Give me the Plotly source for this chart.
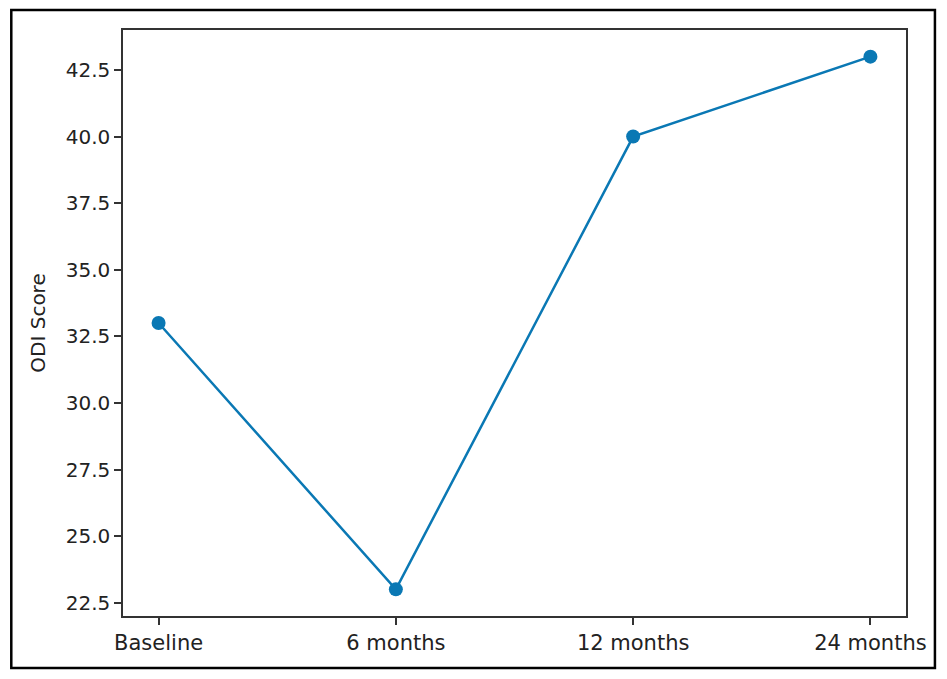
import plotly.graph_objects as go

###### DATA #####
timepoints = ["Baseline", "6 months", "12 months", "24 months"]
odi_score = [33, 23, 40, 43]
y_ticks = [22.5, 25.0, 27.5, 30.0, 32.5, 35.0, 37.5, 40.0, 42.5]
###### DATA #####

# page has an 8px body margin, so the figure is kept inside the window
OFF = 8
W, H = 947 - 2 * OFF, 679 - 2 * OFF
L, T = 123 - OFF, 30 - OFF
R, B = W - (908 - OFF), H - (616 - OFF)
pw, ph = W - L - R, H - T - B

fig = go.Figure()
fig.add_trace(go.Scatter(
    x=list(range(len(timepoints))), y=odi_score,
    mode="lines+markers",
    line=dict(color="#0a78b4", width=2.5),
    marker=dict(color="#0a78b4", size=14),
))

axis_style = dict(
    showline=True, linecolor="#333", linewidth=1.5, mirror=True,
    ticks="outside", ticklen=7, tickcolor="#333", tickwidth=1.5,
    showgrid=False, zeroline=False,
)
fig.update_xaxes(
    range=[-0.15, 3.15], tickvals=list(range(len(timepoints))),
    ticktext=timepoints, tickfont=dict(size=21), **axis_style,
)
fig.update_yaxes(
    range=[22, 44], tickvals=y_ticks, ticktext=[f"{v:.1f}" for v in y_ticks],
    tickfont=dict(size=20),
    title=dict(text="ODI Score", standoff=15, font=dict(size=20)),
    **axis_style,
)

# outer black frame around the whole picture
fig.add_shape(
    type="rect", xref="paper", yref="paper", layer="above",
    x0=(11 - OFF - L) / pw, x1=(937 - OFF - L) / pw,
    y0=((616 - OFF) - (668 - OFF)) / ph, y1=((616 - OFF) - (10 - OFF)) / ph,
    line=dict(color="black", width=2.5),
)

fig.update_layout(
    width=W, height=H,
    margin=dict(l=L, r=R, t=T, b=B),
    paper_bgcolor="white", plot_bgcolor="white",
    font=dict(family="DejaVu Sans", size=20, color="#222"),
    showlegend=False,
)

fig.write_html("out.html")
